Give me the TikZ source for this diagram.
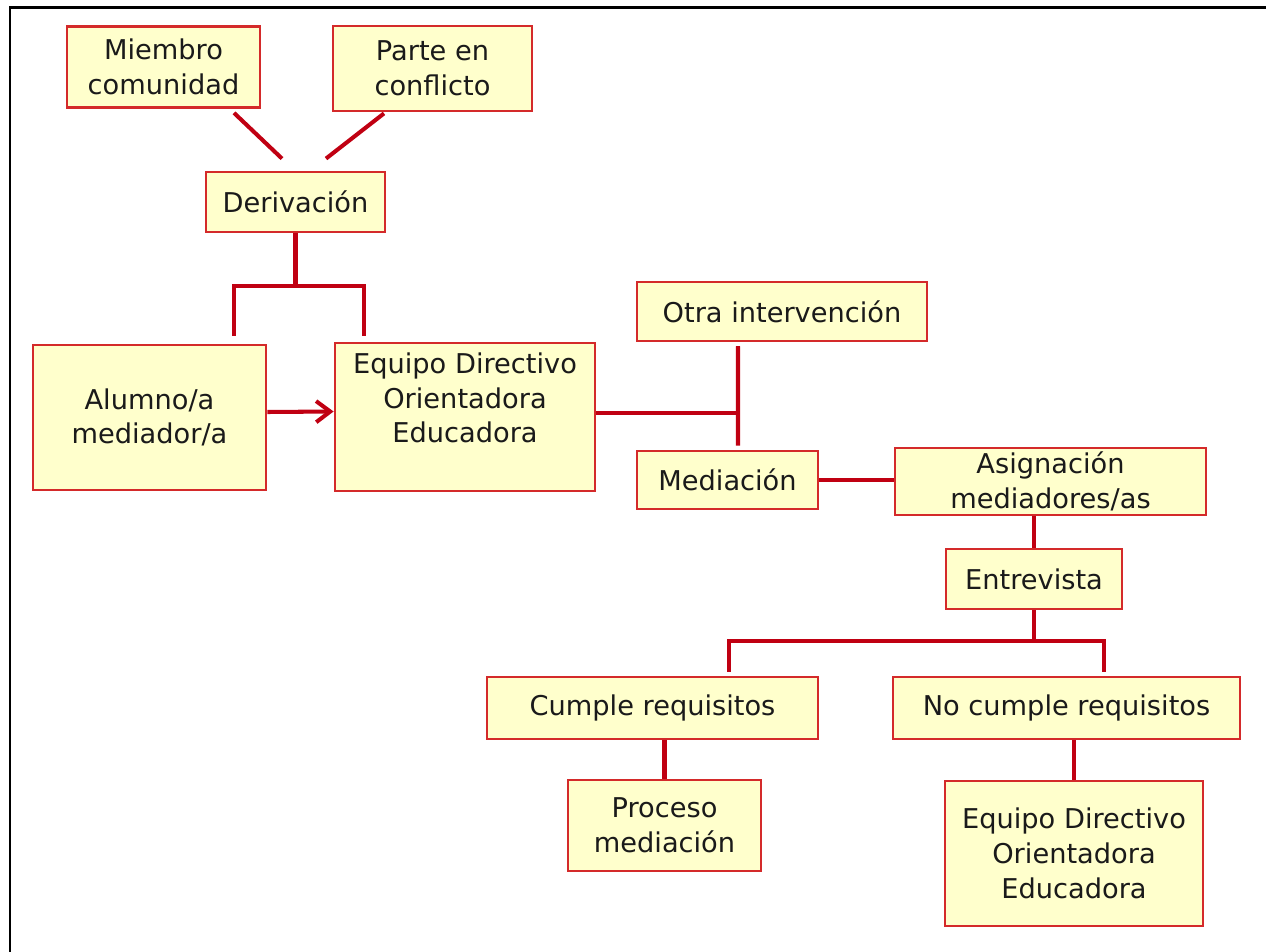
\documentclass[tikz,border=0pt]{standalone}
\usepackage{fontspec}
\setmainfont{DejaVu Sans}
\usetikzlibrary{arrows.meta,calc}
\definecolor{boxfill}{HTML}{FFFFCC}
\definecolor{boxred}{HTML}{D42A2A}
\definecolor{linkred}{HTML}{C00012}
\definecolor{textdark}{HTML}{1A1A1A}
\tikzset{
%Define standard arrow tip
>={Straight Barb[length=8pt, width=12pt]},
%Define styles for boxes and connections
info box/.style={draw=boxred, fill=boxfill, line width=1.6pt, align=center,
  text=textdark, inner sep=0pt, font=\fontsize{15.5}{19.8}\selectfont},
box size/.style 2 args={minimum width=#1*0.02cm, minimum height=#2*0.02cm},
link/.style={draw=linkred, line width=2.3pt},
frame line/.style={line width=1.7pt, black},
}

\begin{document}
\begin{tikzpicture}[x=0.02cm, y=-0.02cm]
    \useasboundingbox (0,0) rectangle (1266,952);
    % Frame
    \draw[frame line] (10,952) -- (10,8) -- (1266,8);

    % Who sends the case
    \node[info box, box size={193}{81}] (miembro) at (163.5,67)
      {Miembro\\comunidad};
    \node[info box, box size={199}{85}] (parte) at (432.5,68.5)
      {Parte en\\conflicto};
    \node[info box, box size={179}{60}] (deriv) at (295.5,202) {Derivación};

    % Second row
    \node[info box, box size={233}{145}] (alumno) at (149.5,417.5)
      {Alumno/a\\mediador/a};
    \node[info box, box size={260}{148}] (equipo) at (465,417)
      {Equipo Directivo\\Orientadora\\Educadora\\[2pt]\mbox{}};
    \node[info box, box size={290}{59}] (otra) at (782,311.5)
      {Otra intervención};
    \node[info box, box size={181}{58}] (mediacion) at (727.5,480)
      {Mediación};
    \node[info box, box size={311}{67}] (asign) at (1050.5,481.5)
      {Asignación\\mediadores/as};
    \node[info box, box size={176}{60}] (entrev) at (1034,579) {Entrevista};

    % Outcome of the interview
    \node[info box, box size={331}{62}] (cumple) at (652.5,708)
      {Cumple requisitos};
    \node[info box, box size={347}{62}] (nocumple) at (1066.5,708)
      {No cumple requisitos};
    \node[info box, box size={193}{91}] (proceso) at (664.5,825.5)
      {Proceso\\mediación};
    \node[info box, box size={258}{145}] (equipob) at (1074,853.5)
      {Equipo Directivo\\Orientadora\\Educadora};

    % Some helper coordinates for the free line ends
    \path
    coordinate (m1) at ($(miembro.south)+(70.5,4)$)
    coordinate (m2) at ($(deriv.north)+(-13.5,-12)$)
    coordinate (p1) at ($(parte.south)+(-48.5,1)$)
    coordinate (p2) at ($(deriv.north)+(30.5,-12)$)
    coordinate (dbar) at ($(deriv.south)+(0,53)$)
    coordinate (a1) at ($(alumno.north)+(84.5,-8)$)
    coordinate (e1) at ($(equipo.north)+(-101,-6)$)
    coordinate (o1) at ($(otra.south)+(-44,4)$)
    coordinate (md1) at ($(mediacion.north)+(10.5,-4)$)
    coordinate (ebar) at ($(entrev.south)+(0,31)$)
    coordinate (c1) at ($(cumple.north)+(76.5,-4)$)
    coordinate (c2) at ($(nocumple.north)+(37.5,-4)$);

    % Draw the connections
    \draw[link] (m1) -- (m2);
    \draw[link] (p1) -- (p2);
    \draw[link] (deriv.south) -- (dbar);
    \draw[link] (a1) |- (dbar) -| (e1);
    \draw[link, ->] ([yshift=0.11cm]alumno.east) -- ([yshift=0.11cm]equipo.west);
    \draw[link] ([yshift=0.08cm]equipo.east) -| (o1);
    \draw[link] (o1) -- (md1);
    \draw[link] (mediacion.east) -- (mediacion.east -| asign.west);
    \draw[link] (entrev.north |- asign.south) -- (entrev.north);
    \draw[link] (entrev.south) -- (ebar);
    \draw[link] (c1) |- (ebar) -| (c2);
    \draw[link] (proceso.north |- cumple.south) -- (proceso.north);
    \draw[link] (equipob.north |- nocumple.south) -- (equipob.north);
\end{tikzpicture}
\end{document}
